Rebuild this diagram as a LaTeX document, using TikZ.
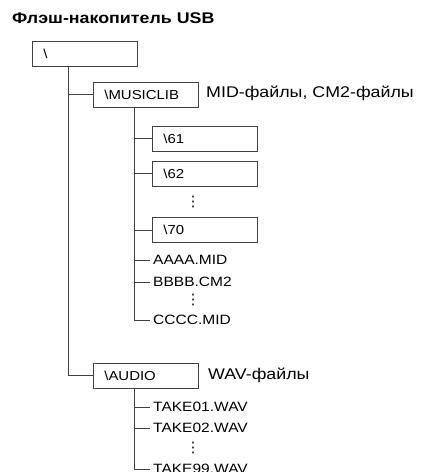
\documentclass[tikz,border=0pt]{standalone}
\usepackage{fontspec}
\setmainfont[FakeStretch=1.15]{Liberation Sans}
\newfontfamily\dotfont{DejaVu Sans}
\tikzset{
  dirbox/.style={draw=black!75,line width=0.7pt,minimum height=25pt,inner xsep=11pt,
    text width=83pt,align=left,anchor=west,font=\fontsize{13}{15}\selectfont},
  fname/.style={anchor=west,inner sep=3pt,font=\fontsize{13.5}{16}\selectfont},
  note/.style={anchor=west,inner sep=0pt,font=\fontsize{15.5}{17}\selectfont},
  branch/.style={draw=black!75,line width=0.7pt},
  vdot/.style={inner sep=0pt,font=\dotfont\fontsize{14.5}{14.5}\selectfont}
}
\begin{document}
\begin{tikzpicture}[x=1pt,y=-1pt]
  \useasboundingbox (0,0) rectangle (425,472);
  \node[anchor=west,inner sep=0pt,font=\bfseries\fontsize{15.5}{17}\selectfont] (title) at (12,18) {Флэш-накопитель USB};

  \node[dirbox] (root) at (32,53.5) {\textbackslash};
  \node[dirbox] (musiclib) at (93,94.5) {\textbackslash MUSICLIB};
  \node[note] (midnote) at (206,93.5) {MID-файлы, CM2-файлы};
  \node[dirbox] (audio) at (93,375.5) {\textbackslash AUDIO};
  \node[note] (wavnote) at (208,375.5) {WAV-файлы};

  \coordinate (rt) at (68,66);
  \draw[branch] (rt) |- (audio.west);
  \draw[branch] (rt |- musiclib.west) -- (musiclib.west);

  \node[dirbox] (d61) at (152,138.5) {\textbackslash 61};
  \node[dirbox] (d62) at (152,173.5) {\textbackslash 62};
  \node[vdot] (dots1) at (193,202) {⋮};
  \node[dirbox] (d70) at (152,230) {\textbackslash 70};
  \node[fname] (aaaa) at (150,260) {AAAA.MID};
  \node[fname] (bbbb) at (150,282) {BBBB.CM2};
  \node[vdot] (dots2) at (193,300) {⋮};
  \node[fname] (cccc) at (150,320) {CCCC.MID};

  \coordinate (mt) at (134,107);
  \draw[branch] (mt) |- (cccc.west);
  \foreach \n in {d61,d62,d70,aaaa,bbbb}
    \draw[branch] (mt |- \n.west) -- (\n.west);

  \node[fname] (take01) at (150,407) {TAKE01.WAV};
  \node[fname] (take02) at (150,428) {TAKE02.WAV};
  \node[vdot] (dots3) at (193,448) {⋮};
  \node[fname] (take99) at (150,469) {TAKE99.WAV};

  \coordinate (at) at (134,388);
  \draw[branch] (at) |- (take99.west);
  \foreach \n in {take01,take02}
    \draw[branch] (at |- \n.west) -- (\n.west);
\end{tikzpicture}
\end{document}
